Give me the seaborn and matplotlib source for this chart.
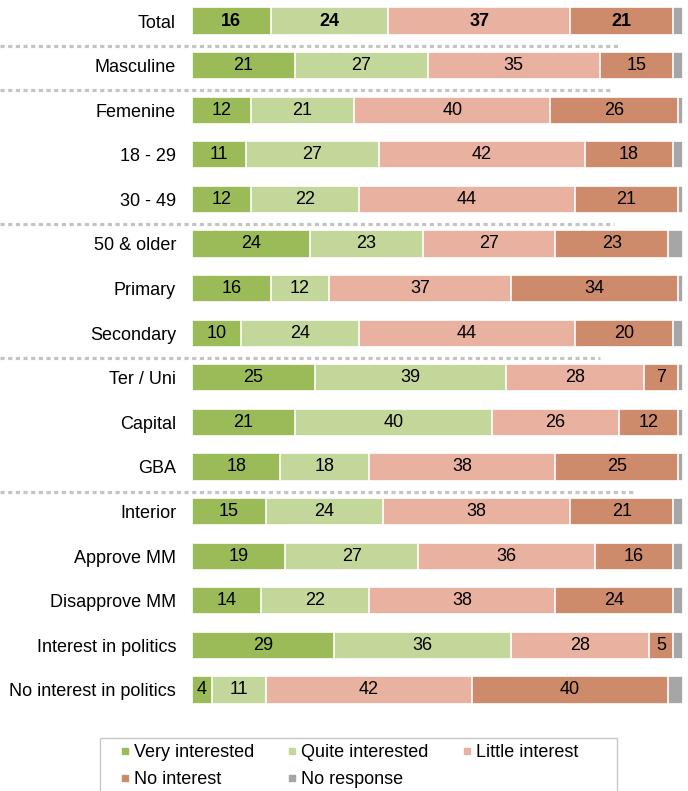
import matplotlib
matplotlib.use("Agg")
import matplotlib.pyplot as plt
import matplotlib.transforms as mtransforms
from matplotlib.lines import Line2D
from matplotlib.patches import Rectangle
import numpy as np
import pandas as pd
import seaborn as sns

categories = ["Total", "Masculine", "Femenine", "18 - 29", "30 - 49", "50 & older",
              "Primary", "Secondary", "Ter / Uni", "Capital", "GBA", "Interior",
              "Approve MM", "Disapprove MM", "Interest in politics",
              "No interest in politics"]
very_interested = [16, 21, 12, 11, 12, 24, 16, 10, 25, 21, 18, 15, 19, 14, 29, 4]
quite_interested = [24, 27, 21, 27, 22, 23, 12, 24, 39, 40, 18, 24, 27, 22, 36, 11]
little_interest = [37, 35, 40, 42, 44, 27, 37, 44, 28, 26, 38, 38, 36, 38, 28, 42]
no_interest = [21, 15, 26, 18, 21, 23, 34, 20, 7, 12, 25, 21, 16, 24, 5, 40]
no_response = [2, 2, 1, 2, 1, 3, 1, 2, 1, 1, 1, 2, 2, 2, 2, 3]

series_names = ["Very interested", "Quite interested", "Little interest",
                "No interest", "No response"]
colors = ["#9BBB59", "#C4D79B", "#E9B1A0", "#CD8B6B", "#A6A6A6"]

# rows after which a dotted separator is drawn, and how far it reaches (px)
separator_after = [0, 1, 4, 7, 10]
separator_end_px = [618, 610, 614, 600, 634]

sns.set_theme(style="white")
plt.rcParams["font.family"] = ["Liberation Sans Narrow", "Liberation Sans", "DejaVu Sans"]

W, H = 688, 791
fig = plt.figure(figsize=(W / 100, H / 100), dpi=100)
ax_left, ax_right = 192, 683
ax_top, ax_bottom = -1.3, 712.3
ax = fig.add_axes([ax_left / W, (H - ax_bottom) / H,
                   (ax_right - ax_left) / W, (ax_bottom - ax_top) / H])

series = [very_interested, quite_interested, little_interest, no_interest, no_response]
values = np.array(series, dtype=float)
cum = np.cumsum(values, axis=0)

df = pd.DataFrame({"category": categories})
for i in range(len(series)):
    df[f"cum{i}"] = cum[i]

# stacked bars: draw cumulative totals from the back to the front
for i in reversed(range(len(series))):
    sns.barplot(data=df, x=f"cum{i}", y="category", orient="h", color=colors[i],
                width=0.61, edgecolor="white", linewidth=1.2, saturation=1,
                ax=ax, order=categories)

# value labels centred in each visible segment
for i in range(4):
    starts = cum[i] - values[i]
    for r in range(len(categories)):
        v = values[i][r]
        ax.text(starts[r] + v / 2, r, f"{int(v)}", ha="center", va="center",
                fontsize=13, color="black",
                fontweight="bold" if r == 0 else "normal")

ax.set_xlim(0, 100)
ax.set_ylim(len(categories) - 0.5, -0.5)
ax.set_xlabel("")
ax.set_ylabel("")
ax.set_xticks([])
ax.tick_params(axis="y", length=0, pad=11.5, labelsize=13, labelcolor="black")
for s in ax.spines.values():
    s.set_visible(False)

# dotted separators spanning from the left edge of the figure
trans = mtransforms.blended_transform_factory(fig.transFigure, ax.transData)
for row, xend in zip(separator_after, separator_end_px):
    line = Line2D([0, xend / W], [row + 0.55, row + 0.55], transform=trans,
                  color="#C4C4C4", linewidth=2.3, linestyle=(0, (1.3, 1.1)),
                  clip_on=False)
    fig.add_artist(line)

# legend laid out row-wise in three columns, inside a plain box
order = [0, 3, 1, 4, 2]
handles = [Line2D([], [], marker="s", linestyle="none", markersize=5,
                  markerfacecolor=colors[k], markeredgecolor=colors[k])
           for k in order]
labels = [series_names[k] for k in order]
leg = fig.legend(handles, labels, ncol=3, loc="upper left",
                 bbox_to_anchor=(121 / W, 1 - 744 / H), frameon=False,
                 fontsize=13, handlelength=0.4, handletextpad=0.3,
                 columnspacing=1.92, borderpad=0, labelspacing=0.58,
                 borderaxespad=0)
for t in leg.get_texts():
    t.set_color("black")
fig.add_artist(Rectangle((99.5 / W, -0.02), (617 - 99.5) / W, 0.02 + (H - 737.5) / H,
                         transform=fig.transFigure, facecolor="none",
                         edgecolor="#C8C8C8", linewidth=1.0, clip_on=False))

fig.savefig("out.png", dpi=100)
